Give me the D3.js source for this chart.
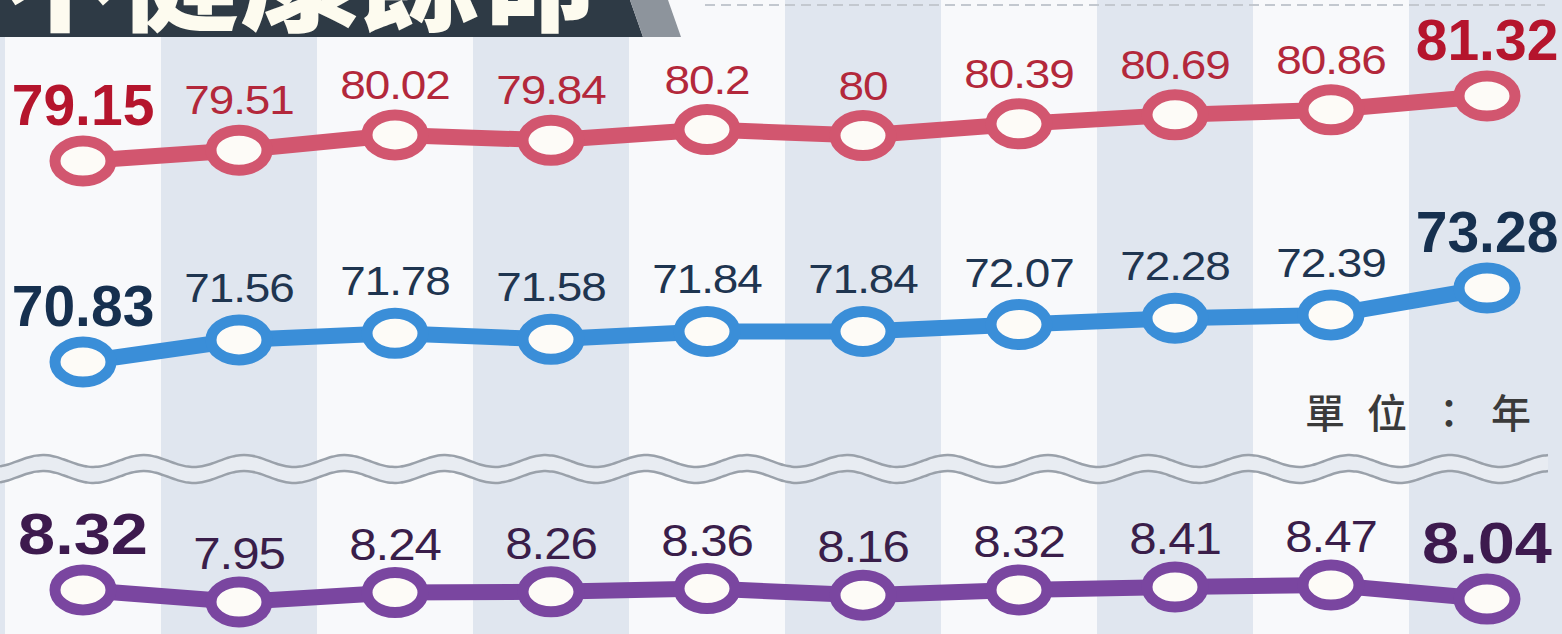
<!DOCTYPE html>
<html>
<head>
<meta charset="utf-8">
<script src="https://cdn.jsdelivr.net/npm/d3@7"></script>
<style>
  html, body { margin: 0; padding: 0; background: #f9fafc; }
  svg { display: block; }
</style>
</head>
<body>
<div id="chart"></div>
<script>
(function() {
    var width = 1562;
    var height = 634;

    // 平均餘命, 健康平均餘命, 不健康餘命 (單位：年)
    var lifeExpectancy = [79.15, 79.51, 80.02, 79.84, 80.2, 80, 80.39, 80.69, 80.86, 81.32];
    var healthyLife = [70.83, 71.56, 71.78, 71.58, 71.84, 71.84, 72.07, 72.28, 72.39, 73.28];
    var unhealthyLife = [8.32, 7.95, 8.24, 8.26, 8.36, 8.16, 8.32, 8.41, 8.47, 8.04];
    var title = "不健康餘命";
    var unitLabel = "單位：年";

    var svg = d3.select("#chart").append("svg")
        .attr("width", width)
        .attr("height", height);

    var x = d3.scaleBand()
        .domain(d3.range(lifeExpectancy.length))
        .range([5, 1565])
        .padding(0);

    var cx = i => x(i) + x.bandwidth() / 2;

    // background stripes
    svg.append("rect")
        .attr("width", width)
        .attr("height", height)
        .attr("fill", "#e0e6ef");

    svg.selectAll(".stripe")
        .data(d3.range(lifeExpectancy.length))
        .enter()
        .append("rect")
        .attr("class", "stripe")
        .attr("x", d => x(d))
        .attr("y", 0)
        .attr("width", x.bandwidth())
        .attr("height", height)
        .attr("fill", d => d % 2 == 0 ? "#f8f9fb" : "#e0e6ef");

    // dashed rule top right
    svg.append("line")
        .attr("x1", 705).attr("x2", 1545)
        .attr("y1", 5).attr("y2", 5)
        .attr("stroke", "#c3c8cf")
        .attr("stroke-width", 2)
        .attr("stroke-dasharray", "10 6");

    // title bar
    svg.append("polygon")
        .attr("points", "0,0 630,0 643,37 0,37")
        .attr("fill", "#2e3a45");
    svg.append("polygon")
        .attr("points", "630,0 668,0 681,37 643,37")
        .attr("fill", "#8d949c");
    svg.append("text")
        .attr("x", 600)
        .attr("y", 22)
        .attr("text-anchor", "end")
        .style("font-family", "'Noto Sans CJK TC', sans-serif")
        .style("font-weight", 900)
        .style("font-size", "120px")
        .attr("fill", "#fdfbef")
        .text(title);

    // axis break (double wave)
    var waveBand = d3.range(0, 1552, 4);
    var waveY = (d, base) => base - 6 * Math.cos((d - 43) / 100.5 * 2 * Math.PI);
    var area = d3.area()
        .x(d => d)
        .y0(d => waveY(d, 461))
        .y1(d => waveY(d, 477))
        .curve(d3.curveBasis);
    svg.append("path")
        .attr("d", area(waveBand))
        .attr("fill", "#e8ecf2");
    [461, 477].forEach(function(b) {
        svg.append("path")
            .attr("d", d3.line().x(d => d).y(d => waveY(d, b)).curve(d3.curveBasis)(waveBand))
            .attr("fill", "none")
            .attr("stroke", "#9aa1aa")
            .attr("stroke-width", 2.5);
    });

    svg.append("text")
        .attr("x", 1305)
        .attr("y", 428)
        .style("font-family", "'Noto Sans CJK TC', sans-serif")
        .style("font-weight", 500)
        .style("font-size", "40px")
        .style("letter-spacing", "22px")
        .attr("fill", "#3a3a3a")
        .text(unitLabel);

    var series = [
        {data: lifeExpectancy, y: d3.scaleLinear().domain(d3.extent(lifeExpectancy)).range([161, 96]),
         line: "#d2566f", label: "#b3283b", bold: "#b5152d", size: 41, boldSize: 57, boldStretch: 1, gap: 36},
        {data: healthyLife, y: d3.scaleLinear().domain(d3.extent(healthyLife)).range([362, 288]),
         line: "#3a8ed8", label: "#1f3550", bold: "#16304f", size: 41, boldSize: 57, boldStretch: 1, gap: 38},
        {data: unhealthyLife, y: d3.scaleLinear().domain(d3.extent(unhealthyLife)).range([602, 585]),
         line: "#7a46a0", label: "#3a1e4a", bold: "#3d1a4e", size: 44, boldSize: 58, boldStretch: 1.15, gap: 33}
    ];

    series.forEach(function(s) {
        var g = svg.append("g");
        var n = s.data.length;
        var isEnd = i => (i == 0 || i == n - 1);

        g.append("path")
            .datum(s.data)
            .attr("d", d3.line().x((d, i) => cx(i)).y(d => s.y(d)))
            .attr("fill", "none")
            .attr("stroke", s.line)
            .attr("stroke-width", 16)
            .attr("stroke-linejoin", "round");

        g.selectAll(".dot")
            .data(s.data)
            .enter()
            .append("ellipse")
            .attr("class", "dot")
            .attr("cx", (d, i) => cx(i))
            .attr("cy", d => s.y(d))
            .attr("rx", 28)
            .attr("ry", 20)
            .attr("fill", "#fdfbf7")
            .attr("stroke", s.line)
            .attr("stroke-width", 11);

        g.selectAll(".val")
            .data(s.data)
            .enter()
            .append("text")
            .attr("class", "val")
            .attr("text-anchor", "middle")
            .attr("transform", (d, i) => "translate(" + cx(i) + "," + (s.y(d) - (isEnd(i) ? 36 : s.gap)) + ") scale(" + (isEnd(i) ? s.boldStretch : 1.12) + ",1)")
            .style("font-family", "'Liberation Sans', Arial, sans-serif")
            .style("font-weight", (d, i) => isEnd(i) ? 700 : 400)
            .style("font-size", (d, i) => (isEnd(i) ? s.boldSize : s.size) + "px")
            .style("letter-spacing", (d, i) => isEnd(i) ? "0px" : "-1px")
            .attr("fill", (d, i) => isEnd(i) ? s.bold : s.label)
            .text(d => d);
    });
})();
</script>
</body>
</html>
